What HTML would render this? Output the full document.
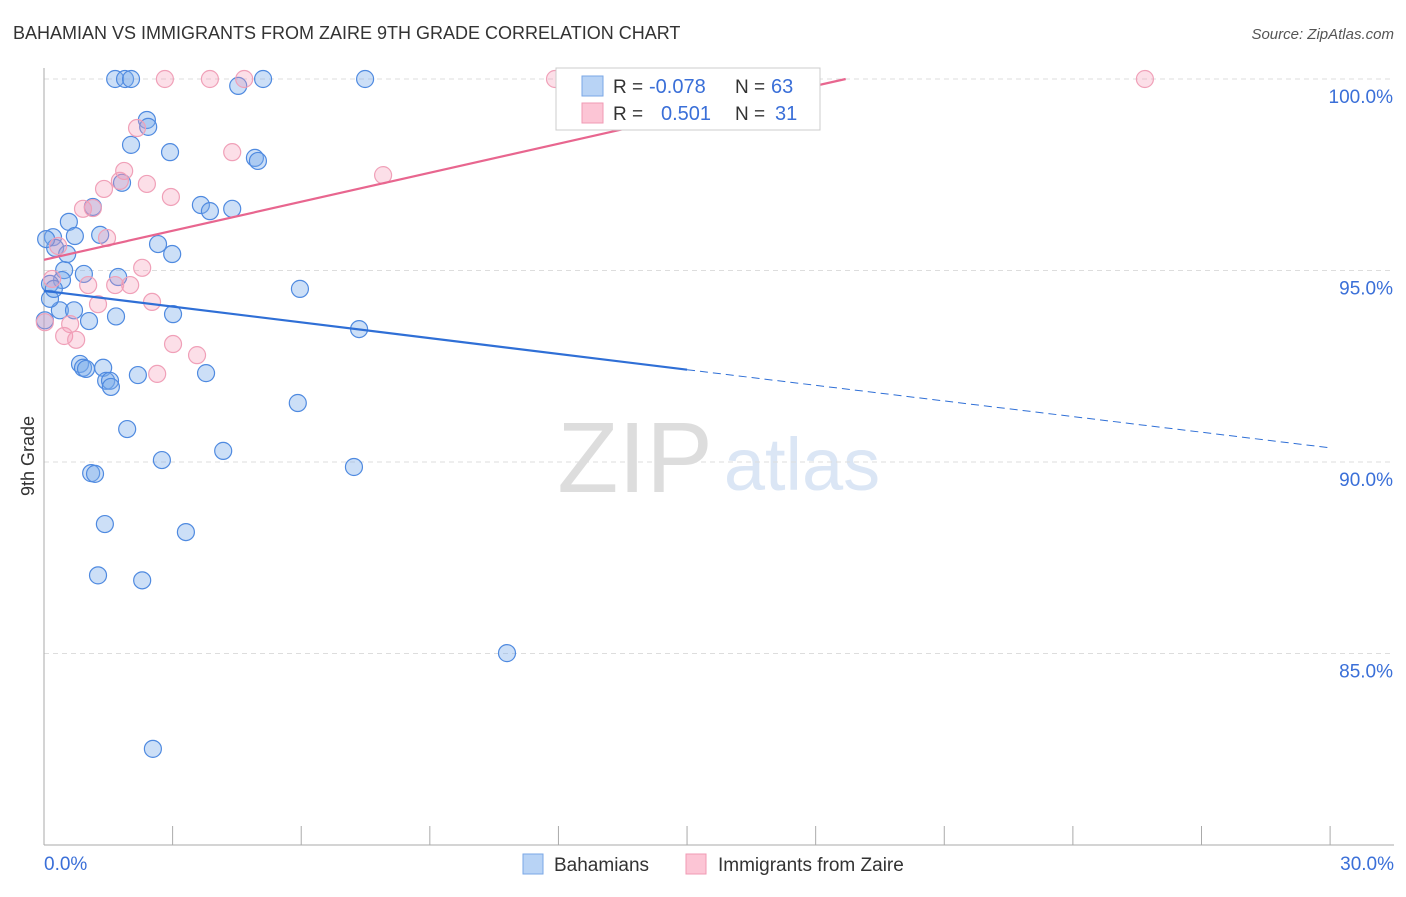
<!DOCTYPE html>
<html><head><meta charset="utf-8"><style>
body{margin:0;background:#fff;font-family:"Liberation Sans",sans-serif;}
svg text{font-family:"Liberation Sans",sans-serif;}
</style></head><body>
<svg id="chart" width="1406" height="892">
<text x="13" y="39" font-size="18" fill="#333">BAHAMIAN VS IMMIGRANTS FROM ZAIRE 9TH GRADE CORRELATION CHART</text>
<text x="1394" y="39" font-size="15" fill="#555" font-style="italic" text-anchor="end">Source: ZipAtlas.com</text>
<text x="635" y="492" font-size="100" fill="#ddd" font-family="Liberation Serif" text-anchor="middle">ZIP</text>
<text x="802" y="490" font-size="74" fill="#dbe6f5" text-anchor="middle">atlas</text>
<text transform="translate(34,456) rotate(-90)" font-size="18" fill="#333" text-anchor="middle">9th Grade</text>
<g id="grid"></g><g id="axes"></g><g id="pts"></g><g id="trend"></g>
<g>
<rect x="556" y="68" width="264" height="62" fill="#fff" stroke="#ccc"/>
<rect x="582" y="76" width="21" height="20" fill="#b8d3f5" stroke="#7aa7e6"/>
<text x="613" y="93" font-size="19" fill="#333">R = </text><text x="649" y="93" font-size="20" fill="#3a6fd8">-0.078</text>
<text x="735" y="93" font-size="19" fill="#333">N = </text><text x="771" y="93" font-size="20" fill="#3a6fd8">63</text>
<rect x="582" y="103" width="21" height="20" fill="#fcc5d5" stroke="#f09ab4"/>
<text x="613" y="120" font-size="19" fill="#333">R = </text><text x="661" y="120" font-size="20" fill="#3a6fd8">0.501</text>
<text x="735" y="120" font-size="19" fill="#333">N = </text><text x="775" y="120" font-size="20" fill="#3a6fd8">31</text>
</g>
<g>
<rect x="523" y="854" width="20" height="20" fill="#b8d3f5" stroke="#7aa7e6"/>
<text x="554" y="871" font-size="19" fill="#333">Bahamians</text>
<rect x="686" y="854" width="20" height="20" fill="#fcc5d5" stroke="#f09ab4"/>
<text x="718" y="871" font-size="19" fill="#333">Immigrants from Zaire</text>
</g>
</svg>
<script>
const xTicks=[0,3,6,9,12,15,18,21,24,27,30];
const yTicks=[100,95,90,85];
const yTickLabels=["100.0%","95.0%","90.0%","85.0%"];
const blueX=[1.66,1.89,2.03,5.11,7.49,4.53,2.40,2.43,2.03,2.94,4.92,4.99,1.82,1.14,3.66,3.87,4.39,0.58,0.72,1.31,0.21,0.26,2.66,2.99,0.47,0.93,1.73,0.42,0.14,5.97,1.68,3.01,0.37,0.70,1.05,7.35,0.02,0.84,0.91,0.98,1.38,1.45,1.54,1.56,2.19,3.78,5.92,1.94,4.18,2.75,7.23,1.10,1.19,1.42,3.31,1.26,2.29,10.80,2.54,0.05,0.14,0.54,0.23];
const blueY=[100,100,100,100,100,99.82,98.93,98.75,98.28,98.09,97.94,97.86,97.29,96.66,96.71,96.55,96.61,96.27,95.90,95.93,95.87,95.59,95.69,95.43,95.01,94.91,94.83,94.75,94.65,94.52,93.80,93.86,93.96,93.96,93.68,93.47,93.70,92.56,92.46,92.43,92.46,92.12,92.12,91.96,92.27,92.32,91.54,90.86,90.29,90.05,89.87,89.71,89.69,88.38,88.17,87.04,86.91,85.01,82.51,95.82,94.26,95.43,94.52];
const pinkX=[2.82,3.87,4.67,11.92,25.68,2.17,4.39,1.87,7.91,1.77,2.40,1.40,2.96,1.14,0.91,1.47,0.33,2.29,0.19,1.03,2.01,1.66,1.26,2.52,0.61,0.47,0.75,3.01,3.57,2.64,0.02];
const pinkY=[100,100,100,100,100,98.72,98.09,97.60,97.49,97.34,97.26,97.13,96.92,96.63,96.61,95.85,95.64,95.07,94.78,94.62,94.62,94.62,94.12,94.18,93.60,93.29,93.19,93.08,92.79,92.30,93.65];
const blueTrend=[[0,94.47],[15,92.41]];
const blueTrendDash=[[15,92.41],[30,90.37]];
const pinkTrend=[[0,95.28],[18.7,100]];
const NS="http://www.w3.org/2000/svg";
const X=v=>44+v*42.87;
const Y=v=>79+(100-v)*38.3;
function mk(tag,attrs,parent){const e=document.createElementNS(NS,tag);for(const k in attrs)e.setAttribute(k,attrs[k]);parent.appendChild(e);return e;}
const grid=document.getElementById('grid'),axes=document.getElementById('axes'),pts=document.getElementById('pts'),trend=document.getElementById('trend');
yTicks.forEach((t,i)=>{
 const l=mk('line',{x1:44,x2:1394,y1:Y(t),y2:Y(t),stroke:'#ddd','stroke-dasharray':'5,4'},grid);
 
 
 const tx=mk('text',{x:1393,y:Y(t)+24,'font-size':19,fill:'#3a6fd8','text-anchor':'end'},axes);
 tx.textContent=yTickLabels[i];
 
 
});
const ya=mk('line',{x1:44,x2:44,y1:68,y2:845,stroke:'#aaa'},axes);


const xa=mk('line',{x1:44,x2:1394,y1:845,y2:845,stroke:'#aaa'},axes);


xTicks.forEach(t=>{
 const l=mk('line',{x1:X(t),x2:X(t),y1:826,y2:845,stroke:'#aaa'},axes);
 
 
});
[[0,'0.0%','start',44],[30,'30.0%','end',1394]].forEach(d=>{
 const tx=mk('text',{x:d[3],y:870,'font-size':19,fill:'#3a6fd8','text-anchor':d[2]},axes);
 tx.textContent=d[1];
 
 
});
blueX.forEach((v,i)=>{
 const c=mk('circle',{cx:X(v),cy:Y(blueY[i]),r:8.5,fill:'rgba(120,170,235,0.38)',stroke:'#4f8ae0','stroke-width':1.2},pts);
 
 
});
pinkX.forEach((v,i)=>{
 const c=mk('circle',{cx:X(v),cy:Y(pinkY[i]),r:8.5,fill:'rgba(245,150,180,0.3)',stroke:'#f0a0b8','stroke-width':1.2},pts);
 
 
});
const b=mk('line',{x1:X(blueTrend[0][0]),y1:Y(blueTrend[0][1]),x2:X(blueTrend[1][0]),y2:Y(blueTrend[1][1]),stroke:'#2f6fd6','stroke-width':2.2},trend);


const bd=mk('line',{x1:X(blueTrendDash[0][0]),y1:Y(blueTrendDash[0][1]),x2:X(blueTrendDash[1][0]),y2:Y(blueTrendDash[1][1]),stroke:'#2f6fd6','stroke-width':1,'stroke-dasharray':'8,5'},trend);


const p=mk('line',{x1:X(pinkTrend[0][0]),y1:Y(pinkTrend[0][1]),x2:X(pinkTrend[1][0]),y2:Y(pinkTrend[1][1]),stroke:'#e8668f','stroke-width':2.2},trend);


</script>
</body></html>
